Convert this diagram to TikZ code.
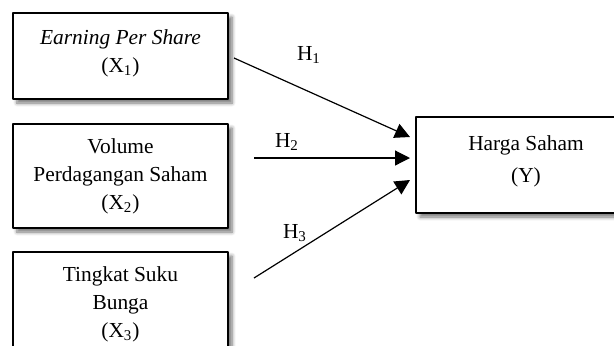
\documentclass[tikz,border=0pt]{standalone}
\usepackage{fontspec}
\setmainfont{Liberation Serif}
\usetikzlibrary{arrows.meta,shadows.blur}

\begin{document}
\begin{tikzpicture}[x=0.5pt,y=-0.5pt,>={Triangle[length=7.5pt,width=7.5pt]}, font=\fontsize{10.7}{14}\selectfont, line join=round,
	box/.style={draw,line width=1.3pt,fill=white,align=center,minimum width=107.5pt,inner sep=0pt,
		blur shadow={shadow xshift=2pt,shadow yshift=-2pt,shadow blur steps=6,shadow blur extra rounding=0pt,shadow opacity=55}},
	hyp/.style={inner sep=1pt}]
	\def\W{614} \def\H{345}
	\useasboundingbox (0,0) rectangle (\W,\H);
	\clip (0,0) rectangle (\W,\H);
	% independent variables
	\node[box,minimum height=43pt] (eps) at (120.5,56) {\textit{Earning Per Share}\\(X\textsubscript{1})\\[-9pt]\mbox{}};
	\node[box,minimum height=52pt] (vol) at (120.5,176) {Volume\\Perdagangan Saham\\(X\textsubscript{2})};
	\node[box,minimum height=52pt] (bunga) at (120.5,304) {Tingkat Suku\\Bunga\\(X\textsubscript{3})};
	% dependent variable
	\node[box,minimum width=110pt,minimum height=48pt] (harga) at (526,165) {Harga Saham\\[2pt](Y)\\[-8pt]\mbox{}};
	% hypotheses
	\coordinate (s1) at (234,58);  \coordinate (t1) at (410,137);
	\coordinate (s2) at (254,158); \coordinate (t2) at (410,158);
	\coordinate (s3) at (254,278); \coordinate (t3) at (410,180);
	\foreach \i in {1,2,3}
	{\draw[->,line width=0.6pt] (s\i)--(t\i);}
	\node[hyp] (h1) at (309,55) {H\textsubscript{1}};
	\node[hyp] (h2) at (287,142) {H\textsubscript{2}};
	\node[hyp] (h3) at (295,233) {H\textsubscript{3}};
\end{tikzpicture}
\end{document}
